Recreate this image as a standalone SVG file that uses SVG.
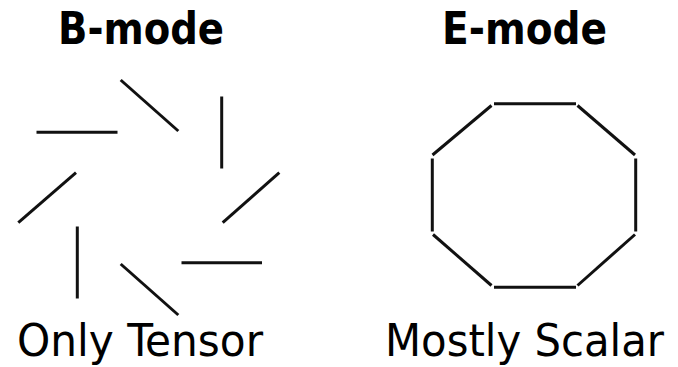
<svg xmlns="http://www.w3.org/2000/svg" width="678" height="367" viewBox="0 0 678 367">
<style>
.t{font-family:"DejaVu Sans Condensed","DejaVu Sans",sans-serif;fill:#000}
.b{font-weight:bold;font-size:45px}
.r{font-size:44px}
.s{stroke:#111;stroke-width:3;stroke-linecap:butt;fill:none}
</style>
<rect width="678" height="367" fill="#fff"/>
<g id="b-mode">
<text class="t b" x="58" y="44" textLength="166" lengthAdjust="spacingAndGlyphs">B-mode</text>
<g class="s">
<line x1="36.5" y1="132.3" x2="117.5" y2="132.3"/>
<line x1="120.7" y1="80" x2="178.3" y2="131"/>
<line x1="221.7" y1="96.5" x2="221.7" y2="168.5"/>
<line x1="76" y1="172.7" x2="18.3" y2="222.7"/>
<line x1="279.3" y1="172.7" x2="222.7" y2="222.7"/>
<line x1="77.3" y1="226.5" x2="77.3" y2="298.5"/>
<line x1="120.7" y1="264" x2="178.3" y2="315"/>
<line x1="181.5" y1="262.7" x2="262" y2="262.7"/>
</g>
<text class="t r" x="17" y="356" textLength="246" lengthAdjust="spacingAndGlyphs">Only Tensor</text>
</g>
<g id="e-mode">
<text class="t b" x="442" y="44" textLength="165" lengthAdjust="spacingAndGlyphs">E-mode</text>
<g class="s">
<line x1="494" y1="103.7" x2="576" y2="103.7"/>
<line x1="491.5" y1="105.5" x2="432.5" y2="155"/>
<line x1="577.5" y1="105.5" x2="635" y2="155"/>
<line x1="432.3" y1="158.5" x2="432.3" y2="231.5"/>
<line x1="635.7" y1="158.5" x2="635.7" y2="231.5"/>
<line x1="433" y1="234.5" x2="491.5" y2="285.5"/>
<line x1="635" y1="234.5" x2="577.5" y2="285.5"/>
<line x1="494" y1="287.3" x2="576" y2="287.3"/>
</g>
<text class="t r" x="385" y="356" textLength="279" lengthAdjust="spacingAndGlyphs">Mostly Scalar</text>
</g>
</svg>
